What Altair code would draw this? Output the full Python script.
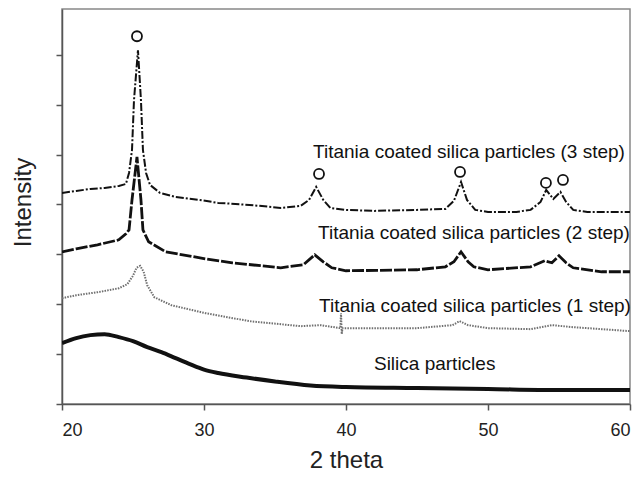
import altair as alt
import pandas as pd

# ---- data ----
x_3step = [20, 21, 22, 23, 24, 24.5, 24.72, 24.93, 25.07, 25.35, 25.56, 25.70, 25.92, 26.2, 26.9, 28, 29.7, 31,
           33.2, 35.4, 36.8, 37.4, 37.9, 38.4, 38.9, 40, 42, 45, 47, 47.6, 48.1, 48.52, 49.1, 50, 52, 53, 53.7,
           54.1, 54.6, 55.1, 55.5, 56.0, 57, 60]
y_3step = [4.23, 4.27, 4.31, 4.33, 4.37, 4.41, 4.63, 5.09, 6.09, 7.09, 6.09, 5.09, 4.63, 4.39, 4.23, 4.15, 4.09, 4.03,
           3.99, 3.93, 3.97, 4.09, 4.35, 4.09, 3.93, 3.89, 3.87, 3.89, 3.91, 4.07, 4.45, 4.09, 3.89, 3.85, 3.85, 3.89, 4.05,
           4.29, 4.11, 4.25, 4.05, 3.89, 3.85, 3.85]

x_2step = [20, 21, 22.5, 24, 24.5, 24.72, 24.93, 25.28, 25.56, 25.70, 26.1, 27.3, 28.5, 30.1, 32, 35.4, 37, 37.8,
           38.4, 39, 40, 45, 47, 47.6, 48.1, 48.6, 49, 50, 53, 54, 54.5, 55, 55.5, 56, 58, 60]
y_2step = [3.05, 3.11, 3.19, 3.29, 3.41, 3.49, 4.09, 4.95, 4.09, 3.49, 3.25, 3.05, 2.99, 2.91, 2.83, 2.73, 2.79, 2.99,
           2.85, 2.73, 2.67, 2.69, 2.75, 2.85, 3.05, 2.85, 2.75, 2.69, 2.75, 2.87, 2.83, 2.97, 2.83, 2.73, 2.65, 2.65]

x_1step = [20, 21, 22.5, 24, 24.6, 25.0, 25.25, 25.5, 25.75, 26.0, 26.5, 27.7, 30.1, 33.2, 36.8, 38.2, 39.6, 39.65,
           39.7, 39.75, 42, 45, 47.5, 48.0, 48.6, 50, 53, 54.5, 56, 58, 60]
y_1step = [2.12, 2.18, 2.24, 2.32, 2.40, 2.57, 2.73, 2.77, 2.65, 2.38, 2.14, 1.98, 1.82, 1.66, 1.56, 1.58, 1.52, 1.82,
           1.40, 1.52, 1.52, 1.52, 1.58, 1.66, 1.58, 1.52, 1.50, 1.58, 1.54, 1.50, 1.46]

x_silica = [20, 21, 22, 23, 24, 25, 26, 27, 28, 29, 30, 31, 33, 35, 37.5, 40, 45, 50, 55, 60]
y_silica = [1.22, 1.32, 1.38, 1.40, 1.34, 1.26, 1.14, 1.04, 0.92, 0.80, 0.69, 0.62, 0.53, 0.45, 0.37, 0.34, 0.32,
            0.30, 0.28, 0.28]

marker_x = [25.28, 38.1, 48.03, 54.08, 55.28]
marker_y = [7.37, 4.61, 4.65, 4.43, 4.49]

label_text = ["Titania coated silica particles (3 step)", "Titania coated silica particles (2 step)",
              "Titania coated silica particles (1 step)", "Silica particles"]
label_x = [37.68, 38.03, 38.1, 41.97]
label_y = [4.93, 3.31, 1.84, 0.68]

x_ticks = [20, 30, 40, 50, 60]
y_ticks = [0, 1, 2, 3, 4, 5, 6, 7]

FONT = "Liberation Sans"

x_scale = alt.Scale(domain=[20, 60], nice=False, zero=False)
y_scale = alt.Scale(domain=[0, 7.916], nice=False, zero=False)
x_axis = alt.Axis(values=x_ticks, title="2 theta", format="d", titleY=63, titleBaseline="alphabetic")
y_axis = alt.Axis(values=y_ticks, labels=False, title="Intensity", titleX=-39, titleY=193,
                  titleBaseline="middle", titleAngle=270)


def enc(chart):
    return chart.encode(
        x=alt.X("x:Q", scale=x_scale, axis=x_axis),
        y=alt.Y("y:Q", scale=y_scale, axis=y_axis),
    )


def line(xs, ys, color, width, dash, interp="linear"):
    df = pd.DataFrame({"x": xs, "y": ys})
    kw = dict(color=color, strokeWidth=width, clip=True, interpolate=interp)
    if dash:
        kw["strokeDash"] = dash
    return enc(alt.Chart(df).mark_line(**kw))


l3 = line(x_3step, y_3step, "#111111", 2.0, [8, 2, 2, 2])
l2 = line(x_2step, y_2step, "#111111", 2.8, [12, 2])
l1 = line(x_1step, y_1step, "#707070", 2.0, [1.5, 1.2])
ls = line(x_silica, y_silica, "#111111", 4.0, None, "monotone")

markers = enc(alt.Chart(pd.DataFrame({"x": marker_x, "y": marker_y})).mark_point(
    shape="circle", filled=False, size=100, strokeWidth=1.8, color="#111111", opacity=1))

labels = enc(alt.Chart(pd.DataFrame({"x": label_x, "y": label_y, "t": label_text})).mark_text(
    align="left", baseline="alphabetic", fontSize=19, font=FONT, color="#111111")).encode(text="t:N")

chart = alt.layer(ls, l1, l2, l3, markers, labels).properties(
    width=568, height=395,
    autosize=alt.AutoSizeParams(type="none"),
    padding={"left": 54, "top": 1, "right": 4, "bottom": 70},
    background="white",
).configure_view(
    stroke="#888888", strokeWidth=1.5
).configure_axis(
    grid=False, domainColor="#555555", domainWidth=1.5, tickColor="#555555", tickWidth=1.5,
    tickSize=6, labelFont=FONT, labelFontSize=18, labelColor="#222222", labelPadding=11,
    titleFont=FONT, titleFontSize=24, titleFontWeight="normal", titleColor="#222222",
)

chart.save("out.html", embed_options={"renderer": "svg", "actions": False})
